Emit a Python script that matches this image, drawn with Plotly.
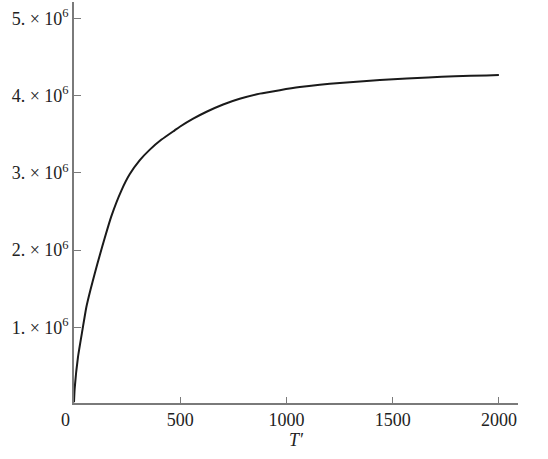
import plotly.graph_objects as go

# curve (T', value in units of 1e6)
t_vals = [0, 3, 19, 40, 58, 77, 98, 121, 145, 176, 223, 262, 309, 357, 412,
          474, 498, 561, 624, 702, 780, 875, 969, 1063, 1157, 1251, 1346, 1440,
          1566, 1667, 1793, 1942, 2000]
y_mill = [0.03, 0.2, 0.62, 0.97, 1.26, 1.48, 1.70, 1.93, 2.16, 2.44, 2.77, 2.98,
          3.16, 3.30, 3.43, 3.55, 3.596, 3.70, 3.79, 3.884, 3.958, 4.025, 4.07,
          4.11, 4.14, 4.162, 4.182, 4.20, 4.22, 4.235, 4.25, 4.26, 4.265]

x_ticks = [500, 1000, 1500, 2000]
y_ticks = [1, 2, 3, 4, 5]
y_ticktext = [f"{v}. × 10<sup>6</sup>" for v in y_ticks]

font_family = "Liberation Serif"
axis_grey = "#7a7a7a"
text_col = "#222222"

fig = go.Figure()
fig.add_trace(go.Scatter(
    x=t_vals,
    y=[v * 1e6 for v in y_mill],
    mode="lines",
    line=dict(color="#1a1a1a", width=2, shape="spline", smoothing=0.5),
    showlegend=False,
    hoverinfo="skip",
))

# the "0" label sits a little left of the corner in the reference
fig.add_annotation(x=0, y=0, xref="x", yref="paper", text="0", showarrow=False,
                   xanchor="center", yanchor="top", xshift=-9, yshift=-5,
                   font=dict(family=font_family, size=18, color=text_col))

fig.update_layout(
    width=548, height=459,
    margin=dict(l=74, r=30, t=2, b=56),
    paper_bgcolor="white", plot_bgcolor="white",
    font=dict(family=font_family, size=18, color=text_col),
    xaxis=dict(
        range=[0, 2090], tickvals=x_ticks, ticks="inside", ticklen=6,
        tickcolor=axis_grey, showline=True, linecolor=axis_grey, linewidth=1.5,
        showgrid=False, zeroline=False, automargin=False,
        title=dict(text="<i>T′</i>", standoff=0, font=dict(size=18)),
    ),
    yaxis=dict(
        range=[0.02e6, 5.211e6], tickvals=[v * 1e6 for v in y_ticks],
        ticktext=y_ticktext, ticks="inside", ticklen=7, tickcolor=axis_grey,
        showline=True, linecolor=axis_grey, linewidth=1.5,
        showgrid=False, zeroline=False, automargin=False,
    ),
)

# drop the browser's default body margin so the figure sits at the page corner
fig.write_html("out.html", config={"displayModeBar": False},
               post_script="document.body.style.margin='0';")
